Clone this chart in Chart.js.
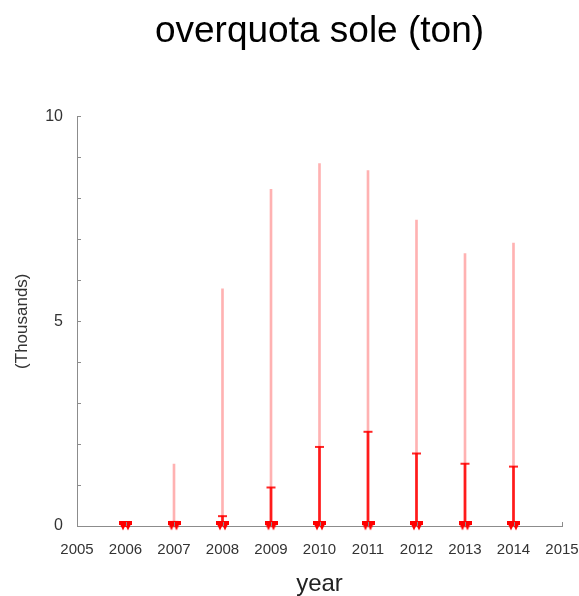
<!DOCTYPE html>
<html>
<head>
<meta charset="utf-8">
<title>overquota sole (ton)</title>
<script src="https://cdn.jsdelivr.net/npm/chart.js@4/dist/chart.umd.min.js"></script>
<style>
  html, body { margin: 0; padding: 0; background: #ffffff; }
  canvas { display: block; }
</style>
</head>
<body>
<canvas id="chart" width="579" height="596"></canvas>
<script>
// Overquota sole landings per year, in thousands of tonnes
const years = [2006, 2007, 2008, 2009, 2010, 2011, 2012, 2013, 2014];
const lowValues = [0, 0, 0, 0, 0, 0, 0, 0, 0];
const midValues = [0, 0.1, 0.24, 0.94, 1.93, 2.30, 1.77, 1.52, 1.45];
const highValues = [0, 1.51, 5.79, 8.22, 8.85, 8.68, 7.47, 6.65, 6.91];

const xTickYears = [2005, 2006, 2007, 2008, 2009, 2010, 2011, 2012, 2013, 2014, 2015];

const axisColor = '#8c8c8c';
const textColor = '#333333';
const fontFamily = '"Liberation Sans", Arial, Helvetica, sans-serif';

// Marker glyph for the lower bound: two overlapping down-pointing triangles
function makeMarker() {
  const c = document.createElement('canvas');
  c.width = 13; c.height = 10;
  const g = c.getContext('2d');
  g.fillStyle = '#ff0000';
  [4, 9].forEach(cx => {
    g.beginPath();
    g.moveTo(cx - 4.5, 0);
    g.lineTo(cx + 4.5, 0);
    g.lineTo(cx, 9.5);
    g.closePath();
    g.fill();
  });
  g.fillRect(0, 0, 13, 4);
  return c;
}
const markerGlyph = makeMarker();

// Small inward tick marks along both axes
const innerTicks = {
  id: 'innerTicks',
  afterDatasetsDraw(chart) {
    const { ctx, scales: { x, y } } = chart;
    ctx.save();
    ctx.strokeStyle = axisColor;
    ctx.lineWidth = 1;
    ctx.beginPath();
    for (let v = y.min; v <= y.max + 1e-9; v += 1) {
      const py = Math.round(y.getPixelForValue(v)) + 0.5;
      ctx.moveTo(x.left, py);
      ctx.lineTo(x.left + 4, py);
    }
    xTickYears.forEach(v => {
      const px = Math.round(x.getPixelForValue(v)) + 0.5;
      ctx.moveTo(px, y.bottom);
      ctx.lineTo(px, y.bottom - 4);
    });
    ctx.stroke();
    ctx.restore();
  }
};

const rangeData = (lo, hi) => years.map((yr, i) => ({ x: yr, y: [lo[i], hi[i]] }));
const pointData = vals => years.map((yr, i) => ({ x: yr, y: vals[i] }));

new Chart(document.getElementById('chart'), {
  type: 'bar',
  data: {
    datasets: [
      {
        label: 'low',
        type: 'line',
        data: pointData(lowValues),
        showLine: false,
        clip: false,
        pointStyle: markerGlyph,
        pointRadius: 6,
        order: 0
      },
      {
        label: 'mid',
        type: 'line',
        data: pointData(midValues),
        showLine: false,
        clip: false,
        pointStyle: 'line',
        pointRadius: 4.5,
        pointBorderWidth: 2,
        pointBorderColor: 'rgba(255,0,0,0.85)',
        order: 1
      },
      {
        label: 'low-mid',
        data: rangeData(lowValues, midValues),
        backgroundColor: 'rgba(255,0,0,0.85)',
        barThickness: 2,
        grouped: false,
        order: 2
      },
      {
        label: 'low-high',
        data: rangeData(lowValues, highValues),
        backgroundColor: 'rgba(255,0,0,0.3)',
        barThickness: 2,
        grouped: false,
        order: 3
      }
    ]
  },
  options: {
    responsive: false,
    animation: false,
    layout: { padding: { left: 0, right: 0, top: 0, bottom: 0 } },
    plugins: {
      legend: { display: false },
      tooltip: { enabled: false },
      title: {
        display: true,
        fullSize: false,
        text: 'overquota sole (ton)',
        color: '#000000',
        font: { family: fontFamily, size: 37, weight: 'normal' },
        padding: { top: 10, bottom: 62 }
      }
    },
    scales: {
      x: {
        type: 'linear',
        min: 2005,
        max: 2015,
        offset: false,
        grid: { display: false, drawTicks: false },
        border: { display: true, color: axisColor, width: 1 },
        ticks: {
          stepSize: 1,
          autoSkip: false,
          maxRotation: 0,
          padding: 15,
          color: textColor,
          font: { family: fontFamily, size: 15 },
          callback: v => String(v)
        },
        title: {
          display: true,
          text: 'year',
          color: '#222222',
          font: { family: fontFamily, size: 24 },
          padding: { top: 0, bottom: -3 }
        },
        afterFit(s) {
          s.height = 70;
          s.paddingLeft = 0;
          s.paddingRight = 17;
        }
      },
      y: {
        min: 0,
        max: 10,
        grid: { display: false, drawTicks: false },
        border: { display: true, color: axisColor, width: 1 },
        ticks: {
          stepSize: 5,
          padding: 14,
          color: textColor,
          font: { family: fontFamily, size: 16 }
        },
        title: {
          display: true,
          text: '(Thousands)',
          color: textColor,
          font: { family: fontFamily, size: 17 },
          padding: { top: 12, bottom: 0 }
        },
        afterFit(s) {
          s.width = 77;
          s.paddingTop = 0;
          s.paddingBottom = 0;
        }
      }
    }
  },
  plugins: [innerTicks]
});
</script>
</body>
</html>
